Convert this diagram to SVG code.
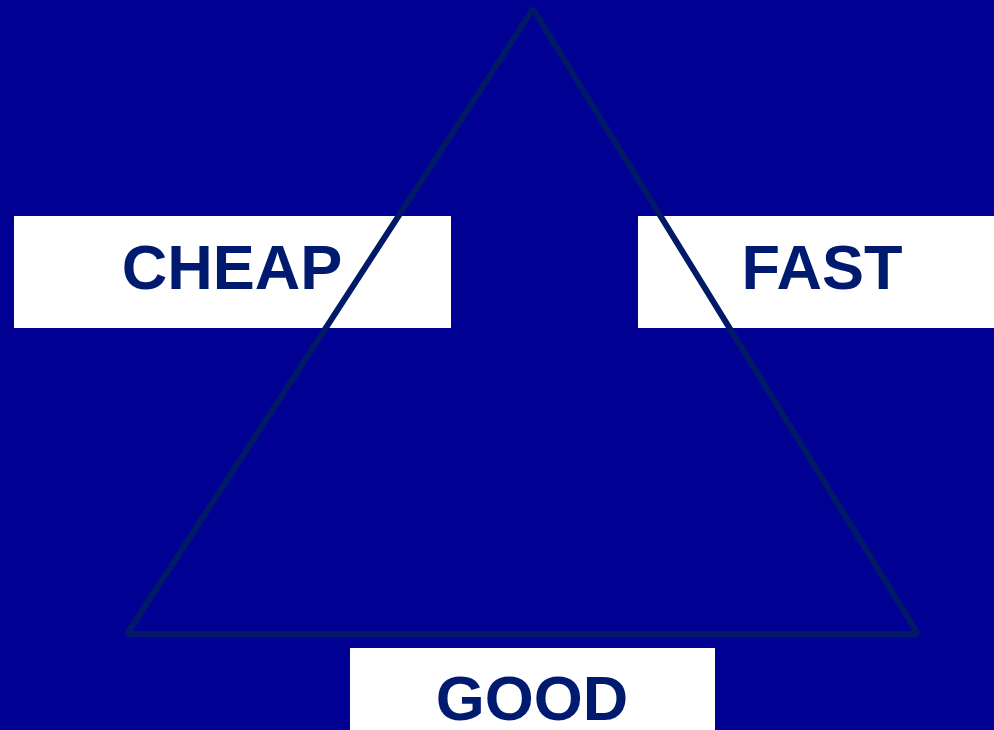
<svg xmlns="http://www.w3.org/2000/svg" width="994" height="730" viewBox="0 0 994 730">
<style>
.box{fill:#ffffff}
.lbl{font-family:"Liberation Sans",Arial,sans-serif;font-weight:bold;font-size:63px;fill:#001a70;text-anchor:middle}
.edge{fill:none;stroke:#001a68;stroke-width:6;stroke-linejoin:bevel}
</style>
<rect width="994" height="730" fill="#000092"/>
<g id="cheap"><rect class="box" x="14" y="216" width="437" height="112"/><text class="lbl" x="232" y="289">CHEAP</text></g>
<g id="fast"><rect class="box" x="638" y="216" width="356" height="112"/><text class="lbl" x="822" y="289">FAST</text></g>
<g id="good"><rect class="box" x="350" y="648" width="365" height="82"/><text class="lbl" x="532" y="720">GOOD</text></g>
<g id="connectors"><path class="edge" d="M533 9 L127 634 L918 634 Z"/></g>
</svg>
